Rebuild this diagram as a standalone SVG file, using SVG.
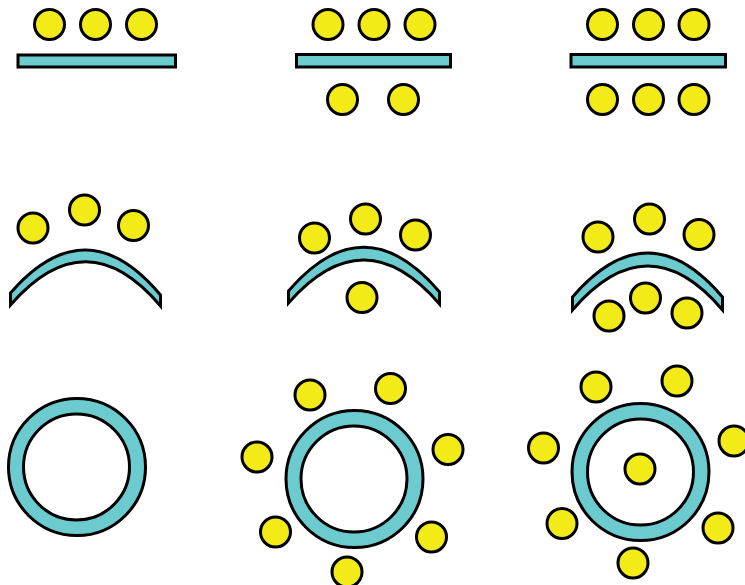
<svg xmlns="http://www.w3.org/2000/svg" width="745" height="585" viewBox="0 0 745 585">
<style>
.b{fill:#f3eb18;stroke:#000;stroke-width:3}
.m{fill:#6ccbcf;stroke:#000;stroke-width:3}
.h{fill:#fff;stroke:#000;stroke-width:3}
</style>
<rect width="745" height="585" fill="#fff"/>
<g id="panel1">
<rect class="m" x="18" y="55" width="157.5" height="12"/>
<circle class="b" cx="49.5" cy="24.5" r="15"/>
<circle class="b" cx="95.5" cy="24.5" r="15"/>
<circle class="b" cx="141.5" cy="24.5" r="15"/>
</g>
<g id="panel2">
<rect class="m" x="296.5" y="54.5" width="154" height="12.5"/>
<circle class="b" cx="328" cy="24.5" r="15"/>
<circle class="b" cx="374" cy="24.5" r="15"/>
<circle class="b" cx="420" cy="24.5" r="15"/>
<circle class="b" cx="342.5" cy="99.5" r="15"/>
<circle class="b" cx="403.5" cy="99.5" r="15"/>
</g>
<g id="panel3">
<rect class="m" x="571" y="54.5" width="154.5" height="12.5"/>
<circle class="b" cx="602.5" cy="24.5" r="15"/>
<circle class="b" cx="648.5" cy="24.5" r="15"/>
<circle class="b" cx="694" cy="24.5" r="15"/>
<circle class="b" cx="602.5" cy="99.5" r="15"/>
<circle class="b" cx="648.5" cy="99.5" r="15"/>
<circle class="b" cx="694" cy="99.5" r="15"/>
</g>
<g id="panel4">
<path class="m" d="M10.5,293 Q86,206 160.5,295 L160.5,306 Q86,218 10.5,305 Z"/>
<circle class="b" cx="33" cy="228" r="15"/>
<circle class="b" cx="84.5" cy="210" r="15"/>
<circle class="b" cx="133.5" cy="225.5" r="15"/>
</g>
<g id="panel5">
<path class="m" d="M288.5,291 Q364,203 439.5,292 L439.5,304 Q364,216.5 288.5,303 Z"/>
<circle class="b" cx="314.5" cy="238" r="15"/>
<circle class="b" cx="365.5" cy="219" r="15"/>
<circle class="b" cx="415.5" cy="235" r="15"/>
<circle class="b" cx="362" cy="297.5" r="15"/>
</g>
<g id="panel6">
<path class="m" d="M572.5,297 Q648,209 722.5,297 L722.5,310 Q648,222 572.5,310 Z"/>
<circle class="b" cx="598" cy="237" r="15"/>
<circle class="b" cx="649.5" cy="219" r="15"/>
<circle class="b" cx="699" cy="234.5" r="15"/>
<circle class="b" cx="609" cy="316" r="15"/>
<circle class="b" cx="645.5" cy="298" r="15"/>
<circle class="b" cx="687" cy="313" r="15"/>
</g>
<g id="panel7">
<circle class="m" cx="77" cy="467" r="68.5"/>
<circle class="h" cx="76.5" cy="467" r="53"/>
</g>
<g id="panel8">
<circle class="m" cx="354.5" cy="479" r="68.5"/>
<circle class="h" cx="354" cy="479" r="53"/>
<circle class="b" cx="310" cy="395" r="15"/>
<circle class="b" cx="390.5" cy="388.5" r="15"/>
<circle class="b" cx="448" cy="449.5" r="15"/>
<circle class="b" cx="257" cy="457" r="15"/>
<circle class="b" cx="275.5" cy="532" r="15"/>
<circle class="b" cx="431.5" cy="537" r="15"/>
<circle class="b" cx="347" cy="572" r="15"/>
</g>
<g id="panel9">
<circle class="m" cx="640.5" cy="472" r="68.5"/>
<circle class="h" cx="640.5" cy="472" r="53"/>
<circle class="b" cx="640" cy="469" r="15"/>
<circle class="b" cx="596" cy="387" r="15"/>
<circle class="b" cx="677" cy="381" r="15"/>
<circle class="b" cx="734" cy="441" r="15"/>
<circle class="b" cx="543.5" cy="448" r="15"/>
<circle class="b" cx="562" cy="523.5" r="15"/>
<circle class="b" cx="718" cy="528" r="15"/>
<circle class="b" cx="633" cy="563" r="15"/>
</g>
<g id="connectors"></g>
</svg>
